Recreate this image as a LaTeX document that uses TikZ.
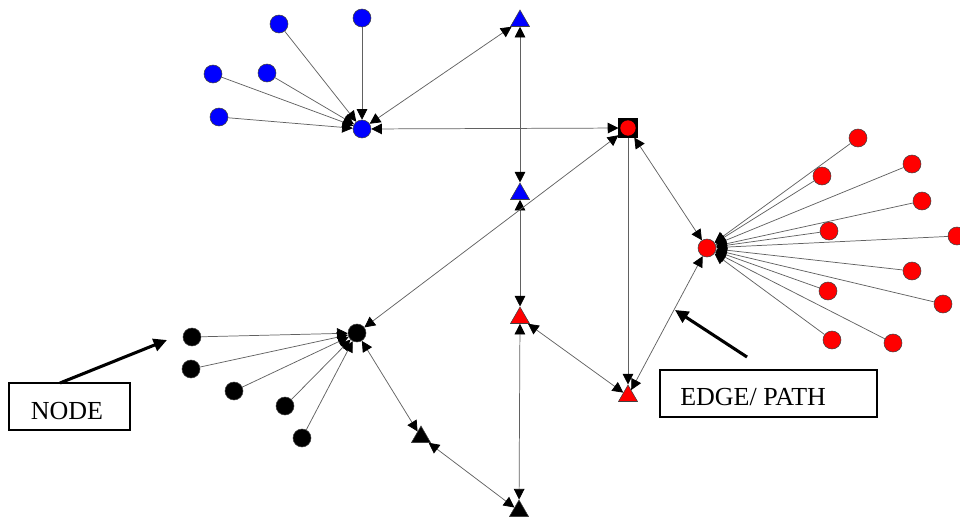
\documentclass[tikz,border=0pt]{standalone}
\usepackage{fontspec}
\setmainfont{Liberation Serif}
\usetikzlibrary{arrows.meta,shapes.geometric}
\begin{document}
\begin{tikzpicture}[x=0.75pt,y=-0.75pt,
  dot/.style={circle,draw=black!75,line width=0.4pt,minimum size=13.5pt,inner sep=0pt},
  tri/.style={regular polygon,regular polygon sides=3,draw=black!75,line width=0.4pt,minimum size=16.5pt,inner sep=0pt},
  sq/.style={rectangle,draw=black,fill=black,line width=0.4pt,minimum size=14pt,inner sep=0pt},
  tip/.tip={Triangle[length=8pt,width=8pt,color=black]},
  link/.style={draw=black!62,line width=0.55pt,-tip},
  bilink/.style={draw=black!62,line width=0.55pt,tip-tip},
  notebox/.style={draw=black,line width=1.1pt,inner sep=0pt,minimum height=35pt},
  notetext/.style={inner sep=0pt,font=\fontsize{19.5}{22}\selectfont},
  pointer/.style={draw=black,line width=2.3pt,-{Triangle[length=10pt,width=9.5pt]}}]
\useasboundingbox (0,0) rectangle (960,518);

% blue cluster
\node[dot,fill=blue] (bh) at (362,129) {};
\node[dot,fill=blue] (b1) at (279,24) {};
\node[dot,fill=blue] (b2) at (362,18) {};
\node[dot,fill=blue] (b3) at (213,74) {};
\node[dot,fill=blue] (b4) at (267,73) {};
\node[dot,fill=blue] (b5) at (219,117) {};

% triangles
\node[tri,fill=blue] (t1) at (520,21) {};
\node[tri,fill=blue] (t2) at (520,194) {};
\node[tri,fill=red] (r1) at (520,318) {};
\node[tri,fill=red] (r2) at (628,396) {};
\node[tri,fill=black] (k1) at (421,437) {};
\node[tri,fill=black] (k2) at (519,511) {};

% red square node
\node[sq] (rs) at (628,128) {};
\node[circle,fill=red,minimum size=11.5pt,inner sep=0pt] (rsin) at (rs.center) {};

% red cluster
\node[dot,fill=red] (rh) at (707,248) {};
\node[dot,fill=red] (q1) at (858,138) {};
\node[dot,fill=red] (q2) at (822,176) {};
\node[dot,fill=red] (q3) at (912,164) {};
\node[dot,fill=red] (q4) at (922,201) {};
\node[dot,fill=red] (q5) at (829,231) {};
\node[dot,fill=red] (q6) at (957,236) {};
\node[dot,fill=red] (q7) at (912,271) {};
\node[dot,fill=red] (q8) at (828,291) {};
\node[dot,fill=red] (q9) at (943,304) {};
\node[dot,fill=red] (q10) at (832,340) {};
\node[dot,fill=red] (q11) at (893,343) {};

% black cluster
\node[dot,fill=black] (kh) at (357,333) {};
\node[dot,fill=black] (c1) at (192,337) {};
\node[dot,fill=black] (c2) at (191,369) {};
\node[dot,fill=black] (c3) at (234,391) {};
\node[dot,fill=black] (c4) at (285,406) {};
\node[dot,fill=black] (c5) at (302,438) {};

% edges: leaves to hubs
\foreach \n in {b1,b2,b3,b4,b5} \draw[link] (\n) -- (bh);
\foreach \n in {q1,q2,q3,q4,q5,q6,q7,q8,q9,q10,q11} \draw[link] (\n) -- (rh);
\foreach \n in {c1,c2,c3,c4,c5} \draw[link] (\n) -- (kh);

% other edges
\draw[bilink] (bh) -- (t1);
\draw[bilink] (bh) -- (rs);
\draw[bilink] (t1) -- (t2);
\draw[bilink] (t2) -- (r1);
\draw[bilink] (r1) -- (k2);
\draw[bilink] (rs) -- (kh);
\draw[link] (rs) -- (r2);
\draw[bilink] (rs) -- (rh);
\draw[bilink] (r2) -- (rh);
\draw[bilink] (r1) -- (r2);
\draw[bilink] (kh) -- (k1);
\draw[bilink] (k1) -- (k2);

% annotations
\node[notebox,minimum width=91pt] (nodebox) at (69.5,406.5) {};
\node[notetext,anchor=base] (nodetext) at (67,419) {NODE};
\node[notebox,minimum width=163pt] (edgebox) at (768.5,393.5) {};
\node[notetext,anchor=base west] (edgetext) at (680,405) {EDGE/ PATH};
\coordinate (nodestart) at (60,383);
\coordinate (nodetip) at (167,340);
\coordinate (edgestart) at (747,357);
\coordinate (edgetip) at (675,310);
\draw[pointer] (nodestart) -- (nodetip);
\draw[pointer] (edgestart) -- (edgetip);
\end{tikzpicture}
\end{document}
